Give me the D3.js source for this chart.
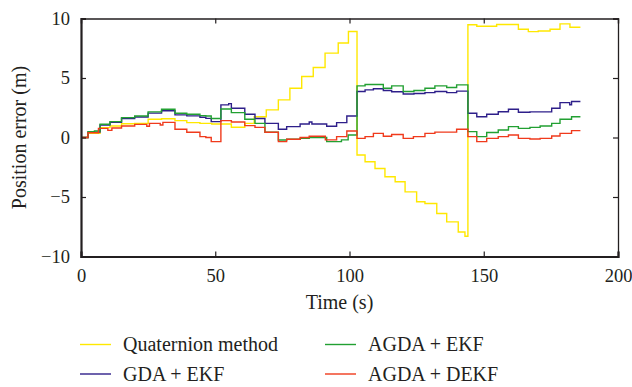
<!DOCTYPE html>
<html>
<head>
<meta charset="utf-8">
<script src="https://cdn.jsdelivr.net/npm/d3@7"></script>
<style>
  body { margin: 0; background: #fff; }
  text { font-family: "Liberation Serif", "Times New Roman", serif; fill: #231f20; }
</style>
</head>
<body>
<div id="chart-container"></div>
<script>
// step breakpoints: time (s) and position error (m)
const quatT = [0, 2.6, 7.1, 10.8, 15.1, 20, 25, 30, 35, 39.4, 44.3, 48.7, 56, 61, 64.5, 69, 73.5, 77.8, 82.2, 86.5, 90.9, 95.8, 99.6, 102.8, 105.8, 109.5, 113.2, 117, 120.7, 125, 128.1, 132.5, 136.2, 140.5, 143, 144.1, 147.4, 154.8, 159.8, 162.9, 166.6, 170.3, 174.7, 178.4, 182.1, 186];
const quatV = [0, 0.35, 0.83, 0.97, 1.15, 1.19, 1.53, 1.58, 1.42, 1.25, 1.19, 1.14, 0.86, 1.19, 1.75, 2.32, 3.16, 4.14, 5.12, 5.88, 7.09, 7.94, 8.91, -1.47, -2.04, -2.6, -3.3, -3.72, -4.57, -5.4, -5.55, -6.39, -7.09, -7.94, -8.3, 9.48, 9.35, 9.5, 9.5, 9.1, 8.9, 8.95, 9.1, 9.55, 9.27, 9.27];

const gdaT = [0, 2.6, 7.1, 10.8, 15.1, 20, 25, 30, 35, 39.4, 44.3, 46.5, 48.5, 52.1, 55, 56, 61, 64.8, 68.5, 73.5, 76.6, 81.6, 85, 86, 91.5, 95.2, 99, 102.8, 105.8, 108.9, 112.6, 115.7, 120, 124, 128.1, 131.8, 136.2, 139.9, 144.1, 147.4, 151.1, 155.4, 159.2, 162.9, 167.2, 171, 175.3, 178.4, 182, 182.7, 186];
const gdaV = [0, 0.45, 1.05, 1.28, 1.6, 1.72, 2.05, 2.25, 1.9, 1.82, 1.7, 1.61, 1.33, 2.74, 2.85, 2.46, 1.95, 1.6, 1.19, 0.69, 0.91, 1.14, 1.3, 1.14, 0.95, 1.25, 1.81, 3.86, 4.0, 4.1, 3.95, 3.85, 3.66, 3.7, 3.77, 3.86, 3.77, 3.9, 2.04, 1.75, 1.95, 2.17, 2.37, 2.12, 2.15, 2.15, 2.46, 2.93, 2.75, 3.02, 3.02];

const agdaT = [0, 2.6, 5, 7.1, 10.8, 15.1, 20, 25, 30, 35, 39.4, 44.3, 46.5, 48.5, 52.1, 56, 61, 64.8, 68.5, 73.5, 76.6, 81.6, 85, 91.5, 97, 99.5, 102.8, 105.8, 108.9, 112.6, 115.7, 120, 124, 128.1, 131.8, 136.2, 139.9, 144.1, 147.4, 151.1, 155.4, 159.2, 162.9, 167.2, 171, 175.3, 178.4, 182.7, 186];
const agdaV = [0, 0.49, 0.55, 1.11, 1.33, 1.67, 1.81, 2.15, 2.37, 2.04, 1.95, 1.84, 1.81, 1.6, 2.4, 2.09, 1.53, 1.19, 0.44, -0.21, -0.15, -0.07, 0.0, -0.35, -0.2, 0.21, 4.34, 4.46, 4.46, 4.14, 4.34, 3.86, 3.95, 4.14, 4.34, 4.2, 4.42, 0.49, 0.07, 0.42, 0.63, 0.91, 0.77, 0.85, 0.97, 1.19, 1.53, 1.75, 1.75];

const dekfT = [0, 2.6, 6.5, 10, 11.5, 15.1, 20, 24.5, 25.5, 29.5, 30.5, 35, 39.4, 44.3, 46.5, 48.5, 52.1, 56, 61, 64.8, 68.5, 73.5, 76.6, 81.6, 85, 91, 95.2, 99, 102.8, 105.8, 108.9, 112.6, 115.7, 120, 123.8, 128.1, 131.8, 136.2, 139.9, 144.1, 147.4, 151.1, 155.4, 159.2, 162.9, 167.2, 171, 175.3, 178.4, 182.7, 186];
const dekfV = [0, 0.4, 0.77, 0.6, 0.8, 0.97, 1.1, 0.95, 1.19, 1.05, 1.27, 0.69, 0.44, 0.07, 0.0, -0.35, 1.42, 1.3, 1.0, 0.85, 0.44, -0.35, -0.15, 0.0, 0.1, -0.2, 0.07, 0.55, -0.07, 0.07, 0.35, 0.1, 0.25, -0.07, 0.07, 0.35, 0.45, 0.45, 0.69, 0.07, -0.35, -0.07, 0.07, 0.21, -0.07, -0.12, -0.07, 0.13, 0.35, 0.58, 0.58];

const seriesNames = ["Quaternion method", "GDA + EKF", "AGDA + EKF", "AGDA + DEKF"];
const seriesColors = ["#ffe800", "#2e1f8a", "#22a032", "#f03a1c"];
const xTicks = [0, 50, 100, 150, 200];
const yTicks = [-10, -5, 0, 5, 10];

const series = [
    { name: seriesNames[0], t: quatT, v: quatV, color: seriesColors[0] },
    { name: seriesNames[1], t: gdaT, v: gdaV, color: seriesColors[1] },
    { name: seriesNames[2], t: agdaT, v: agdaV, color: seriesColors[2] },
    { name: seriesNames[3], t: dekfT, v: dekfV, color: seriesColors[3] }
];

const svgWidth = 632;
const svgHeight = 387;
const margin = { top: 18.5, right: 14, bottom: 130.5, left: 81 };
const width = svgWidth - margin.left - margin.right;
const height = svgHeight - margin.top - margin.bottom;

const svg = d3.select("#chart-container")
    .append("svg")
    .attr("width", svgWidth)
    .attr("height", svgHeight);

const chart = svg.append("g")
    .attr("transform", `translate(${margin.left},${margin.top})`);

const scaleX = d3.scaleLinear().domain([0, 200]).range([0, width]);
const scaleY = d3.scaleLinear().domain([-10, 10]).range([height, 0]);

// series lines (drawn first so the frame sits on top)
const line = d3.line()
    .x(d => scaleX(d[0]))
    .y(d => scaleY(d[1]))
    .curve(d3.curveStepAfter);

chart.selectAll(".series")
    .data(series)
    .enter()
    .append("path")
    .attr("class", "series")
    .attr("fill", "none")
    .attr("stroke", d => d.color)
    .attr("stroke-width", 1.4)
    .attr("d", d => line(d.t.map((t, i) => [t, d.v[i]])));

// frame: ticks point inward on all four sides
const axisColor = "#231f20";
const axBottom = chart.append("g")
    .attr("transform", `translate(0,${height})`)
    .call(d3.axisBottom(scaleX).tickValues(xTicks).tickSize(-5).tickPadding(12));
const axTop = chart.append("g")
    .call(d3.axisTop(scaleX).tickValues(xTicks).tickSize(-5).tickFormat(""));
const axLeft = chart.append("g")
    .call(d3.axisLeft(scaleY).tickValues(yTicks).tickSize(-5).tickPadding(11).tickFormat(d => d < 0 ? "\u2212" + Math.abs(d) : d));
const axRight = chart.append("g")
    .attr("transform", `translate(${width},0)`)
    .call(d3.axisRight(scaleY).tickValues(yTicks).tickSize(-5).tickFormat(""));

[axBottom, axTop, axLeft, axRight].forEach(g => {
    g.selectAll("path.domain").attr("stroke", axisColor).attr("stroke-width", 1.3);
    g.selectAll(".tick line").attr("stroke", axisColor).attr("stroke-width", 1.2);
    g.selectAll(".tick text")
        .attr("font-family", "Liberation Serif, serif")
        .attr("font-size", "18.5px")
        .attr("fill", axisColor);
});
axBottom.select("path.domain").attr("stroke-width", 2.2);
axLeft.select("path.domain").attr("stroke-width", 2.2);

chart.append("text")
    .attr("x", scaleX(100) - 10)
    .attr("y", height + 52)
    .attr("text-anchor", "middle")
    .attr("font-size", "20px")
    .text("Time (s)");

chart.append("text")
    .attr("transform", "rotate(-90)")
    .attr("x", -scaleY(0))
    .attr("y", -55)
    .attr("text-anchor", "middle")
    .attr("font-size", "20px")
    .text("Position error (m)");

// legend, two columns
const legendPos = [[80, 344.5], [80, 374], [325, 344.5], [325, 374]];
const legend = svg.append("g");
series.forEach((s, i) => {
    const [lx, ly] = legendPos[i];
    legend.append("line")
        .attr("x1", lx).attr("x2", lx + 31)
        .attr("y1", ly).attr("y2", ly)
        .attr("stroke", s.color)
        .attr("stroke-width", 1.4);
    legend.append("text")
        .attr("x", lx + 43)
        .attr("y", ly + 6.5)
        .attr("font-size", "20px")
        .text(s.name);
});
</script>
</body>
</html>
